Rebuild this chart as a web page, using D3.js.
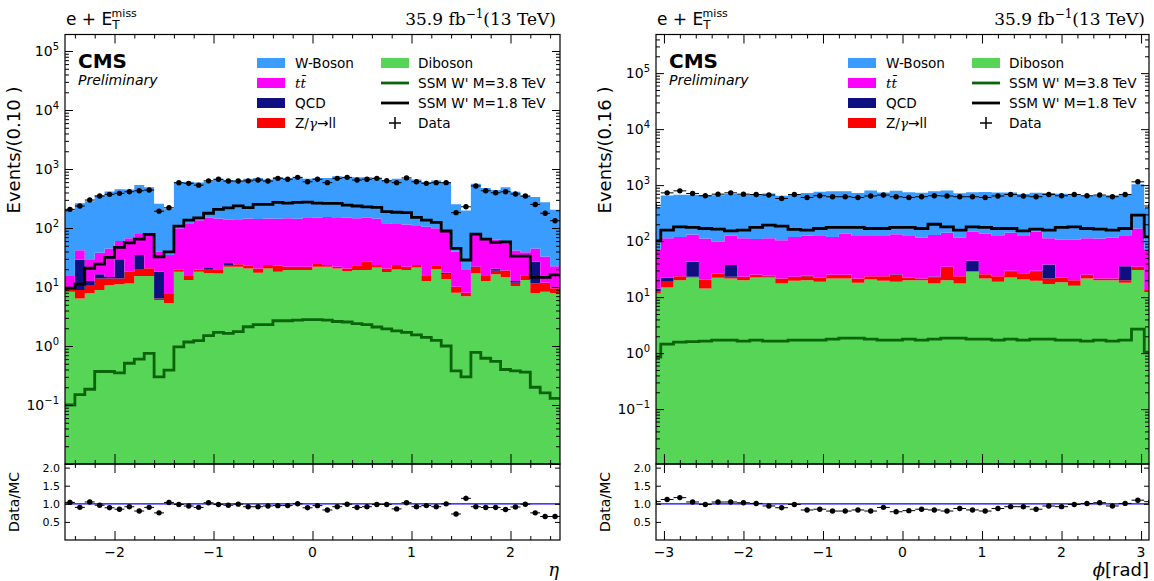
<!DOCTYPE html>
<html>
<head>
<meta charset="utf-8">
<script src="https://cdn.jsdelivr.net/npm/d3@7"></script>
<style>
  body { margin: 0; background: #fff; }
  text { font-family: "DejaVu Sans", sans-serif; fill: #000; }
</style>
</head>
<body>
<svg id="chart" width="1154" height="581"></svg>
<script>
// electron eta: 50 bins of 0.1 from -2.5
var etaLo = -2.5, etaStep = 0.1;
var etaDiboson = [8.3,6.4,7.8,8.9,10.8,11.1,11.5,15.4,15.4,6.0, 5.3,18.1,13.1,18.1,17.1,17,22,22,20.5,17.5,
  20.6,18.1,19.4,19.4,19.4,22,22,20.5,18.5,19.4, 19.4,21.5,18,19.8,19.4,21.5,12.6,20,13.5,8.0,
  7.0,17.1,12.6,16.5,14.6,10.4,13.1,7.8,8.3,7.8];
var etaZll = [1.6,2.5,3.0,5.1,3.2,2.9,6.6,4.8,5.3,0.4, 2.3,1.8,2.8,1.8,3.1,3.0,1.6,2.3,2.5,3.1,
  3.0,4.9,2.6,2.6,2.6,2.5,1.5,1.5,2.0,3.9, 7.4,2.0,2.5,3.8,2.6,2.0,3.3,3.3,3.1,2.1,
  1.0,4.1,2.7,2.4,4.4,1.4,2.8,3.7,3.5,1.7];
var etaQCD = [0,20,1.8,2.4,0.8,15.5,0,14.7,0,11.7, 0,0,0,0,0.8,0,2,0,0,0,
  0,0,0,0,0,0,0,0,0,0, 0,0,0,0,0,0,0,0,0.8,0,
  0,1,0,1.5,0,0.8,0,15.3,0,0];
var etaTT = [5.4,13,17,21.6,30,30.5,49,44,60,21.4, 27.3,79,104,116,128,125,114,116,122,122,
  121,120,125,121,130,125,130,126,130,123, 123,121,100,93,93,88,89,76,72,30,
  12,54,52,43,39,29,23,18,21,13];
var etaWBoson = [184,220,254,324,373,395,381,456,408,218, 177,498,489,456,463,538,511,491,540,564,
  520,589,557,579,532,555,554,607,579,576, 577,565,524,566,571,550,497,539,498,213,
  179,485,409,377,432,372,313,290,241,182];
var etaData = [207,236,298,348,372,387,412,428,440,193, 220,585,572,533,630,669,625,625,630,650,
  625,695,669,722,609,669,587,695,722,650, 669,695,632,587,707,609,572,587,587,182,
  229,516,428,396,412,377,348,251,178,133];
var etaWp18 = [9.6,11.2,20.8,24.5,31.9,47,56,65,78,32.6, 39.5,108,136,149,178,207,220,238,222,251,
  251,272,265,272,275,265,262,262,245,236, 229,224,189,185,182,151,136,125,89,45,
  28.7,79,65,57,58,33.5,33.5,14.6,14.6,16];
var etaWp38 = [0.10,0.15,0.185,0.37,0.37,0.35,0.51,0.60,0.75,0.30, 0.39,0.97,1.17,1.23,1.50,1.70,1.64,1.75,2.12,2.3,
  2.3,2.68,2.68,2.75,2.8,2.8,2.75,2.6,2.55,2.4, 2.3,2.1,1.95,1.8,1.7,1.55,1.4,1.25,1.0,0.38,
  0.30,0.78,0.62,0.55,0.40,0.38,0.36,0.20,0.16,0.13];
var etaTicks = [-2, -1, 0, 1, 2];

// electron phi: 40 bins of 0.16 from -3.2
var phiLo = -3.2, phiStep = 0.16;
var phiDiboson = [11.6,14.9,20,22.5,14.3,22.2,21.6,20,22.5,22.5, 17.6,19.6,20,18.8,21.6,21.6,18.1,20.6,19.6,18.8,
  20,20,17.6,20,17.6,28.3,21.6,18.8,22.5,20.6, 19.6,17.1,18.4,16,21.6,20,20,18,30.5,12.4];
var phiZll = [1.0,3.9,3.7,0.5,6.4,4.2,1.4,3.0,2.5,1.2, 4.0,3.4,3.7,3.7,3.4,3.4,3.5,3.1,4.1,6.2,
  2.5,1.6,4.9,14.7,6.1,0.7,4.1,4.9,6.5,6.2, 9.4,4.5,4.1,4.0,3.4,1.6,1.6,2.0,4.2,1.0];
var phiQCD = [1.5,3.7,0,19.7,0,0,14.3,0,0,0.5, 0,0,0.5,0,0,0,0,0,0,0.5,
  0,0,0.8,0,0,15.5,0,0,0.6,0, 0.6,16.8,0,0,0,0,0,15.7,0,0];
var phiTT = [55,89.5,95,89,91,71,87,89,84,88, 82,96,100,105,94,112,102,100,100,107,
  105,94,105,106,92,102,111,100,111,97, 117,74,83,86,87,90,94,92,134,56];
var phiWBoson = [341,538,556,544,547,560,569,558,564,595, 545,575,603,632,656,638,603,676,615,662,
  616,613,650,659,597,600,617,612,600,572, 582,614,596,590,528,534,544,547,873,331];
var phiData = [435,728,790,710,646,690,728,690,680,665, 578,680,603,646,620,620,603,640,665,620,
  603,620,646,640,620,620,603,640,682,640, 620,682,646,682,646,665,620,682,1146,424];
var phiWp18 = [101,157,180,176,168,164,153,157,176,193, 186,162,157,168,176,176,176,168,168,176,
  176,168,200,180,157,180,176,168,168,153, 164,157,176,180,168,164,157,168,291,119];
var phiWp38 = [0.85,1.45,1.57,1.6,1.64,1.71,1.71,1.64,1.71,1.64, 1.64,1.71,1.71,1.71,1.78,1.85,1.85,1.78,1.71,1.71,
  1.78,1.71,1.78,1.85,1.85,1.78,1.78,1.71,1.78,1.71, 1.78,1.78,1.71,1.71,1.64,1.71,1.64,1.71,2.68,1.04];
var phiTicks = [-3, -2, -1, 0, 1, 2, 3];

var colors = { dib: "#56d556", z: "#ff0000", qcd: "#0f0f82", tt: "#ff00ff", w: "#3a9cff" };
var stackKeys = ["dib", "z", "qcd", "tt", "w"];

var svg = d3.select("#chart");

function panel(p, idx) {
  var g = svg.append("g");
  var x = d3.scaleLinear().domain(p.xDomain).range([p.left, p.right]);
  var y = d3.scaleLog().domain(p.yDomain).range([p.mid, p.top]);
  var yr = d3.scaleLinear().domain([0, 2.1]).range([p.bottom, p.mid]);
  var yMin = p.yDomain[0];

  var bins = p.data.map(function(d, i) {
    return { lo: p.lo + i * p.step, hi: p.lo + (i + 1) * p.step,
      dib: p.dib[i], z: p.z[i], qcd: p.qcd[i], tt: p.tt[i], w: p.w[i], data: d };
  });
  bins.forEach(function(b) { b.mc = b.dib + b.z + b.qcd + b.tt + b.w; b.mid = (b.lo + b.hi) / 2; });

  var defs = svg.append("defs");
  defs.append("clipPath").attr("id", "main" + idx).append("rect")
    .attr("x", p.left).attr("y", p.top).attr("width", p.right - p.left).attr("height", p.mid - p.top);
  defs.append("clipPath").attr("id", "rat" + idx).append("rect")
    .attr("x", p.left).attr("y", p.mid).attr("width", p.right - p.left).attr("height", p.bottom - p.mid);

  var main = g.append("g").attr("clip-path", "url(#main" + idx + ")");
  // stacked histogram, each layer drawn as one step-shaped area
  var series = d3.stack().keys(stackKeys)(bins);
  var area = d3.area()
    .x(function(d) { return x(d.x); })
    .y0(function(d) { return y(Math.max(d.y0, yMin)); })
    .y1(function(d) { return y(Math.max(d.y1, yMin)); });
  series.forEach(function(s) {
    var pts = [];
    s.forEach(function(d) {
      pts.push({ x: d.data.lo, y0: d[0], y1: d[1] });
      pts.push({ x: d.data.hi, y0: d[0], y1: d[1] });
    });
    main.append("path").attr("d", area(pts)).attr("fill", colors[s.key]);
  });

  function stepLine(vals) {
    var pts = [];
    vals.forEach(function(v, i) { pts.push([p.lo + i * p.step, v]); pts.push([p.lo + (i + 1) * p.step, v]); });
    return d3.line().x(function(d) { return x(d[0]); }).y(function(d) { return y(d[1]); })(pts);
  }
  main.append("path").attr("d", stepLine(p.wp38)).attr("fill", "none")
    .attr("stroke", "#0a640a").attr("stroke-width", 2.8);
  main.append("path").attr("d", stepLine(p.wp18)).attr("fill", "none")
    .attr("stroke", "#000").attr("stroke-width", 2.8);

  var pts = main.append("g");
  bins.forEach(function(b) {
    var e = Math.sqrt(b.data);
    pts.append("line").attr("x1", x(b.lo)).attr("x2", x(b.hi)).attr("y1", y(b.data)).attr("y2", y(b.data))
      .attr("stroke", "#000").attr("stroke-width", 1);
    pts.append("line").attr("x1", x(b.mid)).attr("x2", x(b.mid)).attr("y1", y(b.data - e)).attr("y2", y(b.data + e))
      .attr("stroke", "#000").attr("stroke-width", 1);
    pts.append("circle").attr("cx", x(b.mid)).attr("cy", y(b.data)).attr("r", 2.7).attr("fill", "#000");
  });

  // ratio
  var rat = g.append("g").attr("clip-path", "url(#rat" + idx + ")");
  rat.append("line").attr("x1", p.left).attr("x2", p.right).attr("y1", yr(1)).attr("y2", yr(1))
    .attr("stroke", "#0000ff").attr("stroke-width", 1.3);
  bins.forEach(function(b) {
    var r = b.data / b.mc, e = Math.sqrt(b.data) / b.mc;
    rat.append("line").attr("x1", x(b.lo)).attr("x2", x(b.hi)).attr("y1", yr(r)).attr("y2", yr(r))
      .attr("stroke", "#000").attr("stroke-width", 1);
    rat.append("line").attr("x1", x(b.mid)).attr("x2", x(b.mid)).attr("y1", yr(r - e)).attr("y2", yr(r + e))
      .attr("stroke", "#000").attr("stroke-width", 1);
    rat.append("circle").attr("cx", x(b.mid)).attr("cy", yr(r)).attr("r", 2.7).attr("fill", "#000");
  });

  // ticks
  var minorX = d3.range(Math.ceil(p.xDomain[0] * 5), Math.floor(p.xDomain[1] * 5) + 1)
    .map(function(k) { return k / 5; })
    .filter(function(v) { return p.xTicks.indexOf(Math.round(v * 10) / 10) < 0; });
  function tickAxis(axis, tr, vals, size) {
    var a = g.append("g").attr("transform", tr)
      .call(axis.tickValues(vals).tickSize(size).tickSizeOuter(0).tickFormat(""));
    a.select(".domain").remove();
    a.selectAll("line").attr("stroke", "#000").attr("stroke-width", 1);
  }
  tickAxis(d3.axisBottom(x), "translate(0," + p.top + ")", p.xTicks, 9);
  tickAxis(d3.axisBottom(x), "translate(0," + p.top + ")", minorX, 4);
  tickAxis(d3.axisTop(x), "translate(0," + p.mid + ")", p.xTicks, 10);
  tickAxis(d3.axisTop(x), "translate(0," + p.mid + ")", minorX, 4);
  tickAxis(d3.axisBottom(x), "translate(0," + p.mid + ")", p.xTicks, 9);
  tickAxis(d3.axisBottom(x), "translate(0," + p.mid + ")", minorX, 4);
  tickAxis(d3.axisTop(x), "translate(0," + p.bottom + ")", p.xTicks, 9);
  tickAxis(d3.axisTop(x), "translate(0," + p.bottom + ")", minorX, 4);

  var majorY = d3.range(-2, 6).map(function(k) { return Math.pow(10, k); })
    .filter(function(v) { return v >= yMin && v <= p.yDomain[1]; });
  var minorY = [];
  d3.range(-2, 6).forEach(function(k) {
    d3.range(2, 10).forEach(function(m) {
      var v = m * Math.pow(10, k);
      if (v > yMin && v < p.yDomain[1]) minorY.push(v);
    });
  });
  tickAxis(d3.axisRight(y), "translate(" + p.left + ",0)", majorY, 8);
  tickAxis(d3.axisRight(y), "translate(" + p.left + ",0)", minorY, 4);
  tickAxis(d3.axisLeft(y), "translate(" + p.right + ",0)", majorY, 8);
  tickAxis(d3.axisLeft(y), "translate(" + p.right + ",0)", minorY, 4);
  var ratTicks = [0.5, 1.0, 1.5, 2.0];
  tickAxis(d3.axisRight(yr), "translate(" + p.left + ",0)", ratTicks, 5);
  tickAxis(d3.axisLeft(yr), "translate(" + p.right + ",0)", ratTicks, 5);

  // frames
  g.append("rect").attr("x", p.left).attr("y", p.top).attr("width", p.right - p.left)
    .attr("height", p.mid - p.top).attr("fill", "none").attr("stroke", "#000").attr("stroke-width", 1.2);
  g.append("rect").attr("x", p.left).attr("y", p.mid).attr("width", p.right - p.left)
    .attr("height", p.bottom - p.mid).attr("fill", "none").attr("stroke", "#000").attr("stroke-width", 1.2);

  // tick labels
  majorY.filter(function(v) { return v >= 0.05; }).forEach(function(v) {
    var t = g.append("text").attr("x", p.left - 6).attr("y", y(v) + 5).attr("text-anchor", "end")
      .style("font-size", "14px").attr("fill", "#222");
    t.append("tspan").text("10");
    t.append("tspan").attr("dy", -6).style("font-size", "10px").text(d3.format("d")(Math.log10(v)).replace("-", "\u2212"));
  });
  ratTicks.forEach(function(v) {
    g.append("text").attr("x", p.left - 5).attr("y", yr(v) + 4).attr("text-anchor", "end")
      .style("font-size", "11px").attr("fill", "#333").text(d3.format(".1f")(v));
  });
  p.xTicks.forEach(function(v) {
    g.append("text").attr("x", x(v)).attr("y", p.bottom + 17).attr("text-anchor", "middle")
      .style("font-size", "14px").attr("fill", "#222").text(d3.format("d")(v));
  });

  // axis titles
  g.append("text").attr("transform", "translate(" + (p.left - 45) + ",150) rotate(-90)")
    .attr("text-anchor", "middle").style("font-size", "18px").text(p.ylabel);
  g.append("text").attr("transform", "translate(" + (p.left - 46) + "," + ((p.mid + p.bottom) / 2) + ") rotate(-90)")
    .attr("text-anchor", "middle").style("font-size", "14px").text("Data/MC");
  var xl = g.append("text").attr("x", p.right).attr("y", 576).attr("text-anchor", "end")
    .style("font-size", "18px");
  p.xlabel(xl);

  // top titles
  var tl = g.append("text").attr("x", p.left + 1).attr("y", 25).style("font-size", "17px");
  tl.append("tspan").text("e + E");
  tl.append("tspan").attr("dy", 4).style("font-size", "12px").text("T");
  tl.append("tspan").attr("dy", -12).attr("dx", -8).style("font-size", "11px").text("miss");
  var tr = g.append("text").attr("x", p.right - 4).attr("y", 25).attr("text-anchor", "end")
    .style("font-family", "'DejaVu Serif', serif").style("font-size", "17px");
  tr.append("tspan").text("35.9 fb");
  tr.append("tspan").attr("dy", -7).style("font-size", "12px").text("\u22121");
  tr.append("tspan").attr("dy", 7).text("(13 TeV)");

  g.append("text").attr("x", p.left + 13).attr("y", 68).style("font-size", "20px")
    .style("font-weight", "bold").text("CMS");
  g.append("text").attr("x", p.left + 13).attr("y", 85).style("font-size", "14px")
    .style("font-style", "italic").text("Preliminary");

  // legend
  var fs = "13.6px";
  var lg = g.append("g").attr("transform", "translate(" + (p.left + 192) + ",63)");
  var col1 = [["w", "W-Boson"], ["tt", null], ["qcd", "QCD"], ["z", null]];
  col1.forEach(function(d, i) {
    lg.append("rect").attr("x", 0).attr("y", i * 20 - 5).attr("width", 28).attr("height", 10).attr("fill", colors[d[0]]);
    var t = lg.append("text").attr("x", 38).attr("y", i * 20 + 5).style("font-size", fs);
    if (d[0] === "tt") {
      t.style("font-family", "'DejaVu Serif', serif").style("font-style", "italic").text("tt\u0304");
    } else if (d[0] === "z") {
      t.append("tspan").text("Z/");
      t.append("tspan").style("font-style", "italic").style("font-family", "'DejaVu Serif', serif").text("\u03b3");
      t.append("tspan").text("\u2192ll");
    } else t.text(d[1]);
  });
  lg.append("rect").attr("x", 124).attr("y", -5).attr("width", 28).attr("height", 10).attr("fill", colors.dib);
  lg.append("text").attr("x", 161).attr("y", 5).style("font-size", fs).text("Diboson");
  lg.append("line").attr("x1", 124).attr("x2", 152).attr("y1", 20).attr("y2", 20).attr("stroke", "#0a640a").attr("stroke-width", 2.8);
  lg.append("text").attr("x", 161).attr("y", 25).style("font-size", fs).text("SSM W' M=3.8 TeV");
  lg.append("line").attr("x1", 124).attr("x2", 152).attr("y1", 40).attr("y2", 40).attr("stroke", "#000").attr("stroke-width", 2.8);
  lg.append("text").attr("x", 161).attr("y", 45).style("font-size", fs).text("SSM W' M=1.8 TeV");
  lg.append("line").attr("x1", 132).attr("x2", 144).attr("y1", 60).attr("y2", 60).attr("stroke", "#000").attr("stroke-width", 1.5);
  lg.append("line").attr("x1", 138).attr("x2", 138).attr("y1", 54).attr("y2", 66).attr("stroke", "#000").attr("stroke-width", 1.5);
  lg.append("text").attr("x", 161).attr("y", 65).style("font-size", fs).text("Data");
}

panel({
  left: 65, right: 560, top: 34.5, mid: 464, bottom: 540,
  xDomain: [-2.5, 2.5], yDomain: [0.01, Math.pow(10, 5.28)], xTicks: etaTicks,
  lo: etaLo, step: etaStep,
  dib: etaDiboson, z: etaZll, qcd: etaQCD, tt: etaTT, w: etaWBoson, data: etaData,
  wp18: etaWp18, wp38: etaWp38,
  ylabel: "Events/(0.10 )",
  xlabel: function(t) {
    t.style("font-family", "'DejaVu Serif', serif").style("font-style", "italic").attr("x", 559).text("\u03b7");
  }
}, 0);

panel({
  left: 656, right: 1149, top: 34.5, mid: 464, bottom: 540,
  xDomain: [-3.1, 3.1], yDomain: [Math.pow(10, -1.98), Math.pow(10, 5.69)], xTicks: phiTicks,
  lo: phiLo, step: phiStep,
  dib: phiDiboson, z: phiZll, qcd: phiQCD, tt: phiTT, w: phiWBoson, data: phiData,
  wp18: phiWp18, wp38: phiWp38,
  ylabel: "Events/(0.16 )",
  xlabel: function(t) {
    t.append("tspan").style("font-family", "'DejaVu Serif', serif").style("font-style", "italic").text("\u03d5");
    t.append("tspan").text("[rad]");
  }
}, 1);
</script>
</body>
</html>
